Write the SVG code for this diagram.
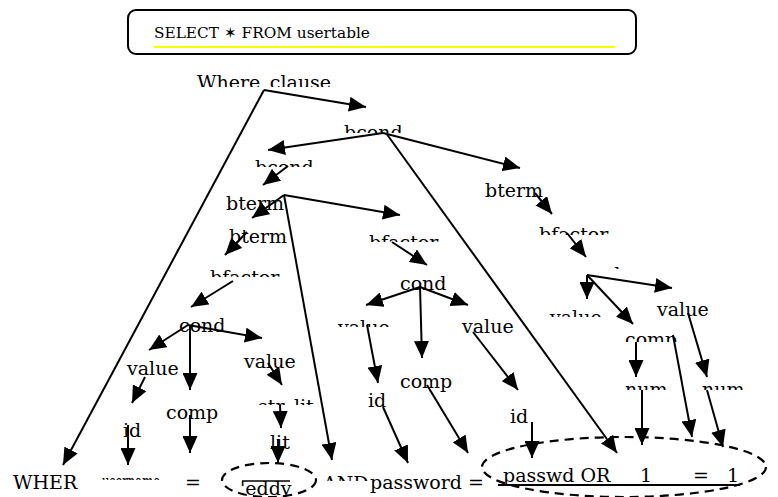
<svg xmlns="http://www.w3.org/2000/svg" width="778" height="497" viewBox="0 0 778 497">
<style>
text{font-family:"DejaVu Serif","Liberation Serif",serif;font-size:19px;fill:#000}
.q{font-size:15.3px}
.c line{stroke:#000;stroke-width:2;marker-end:url(#ah)}
.d{fill:none;stroke:#000;stroke-width:2.2;stroke-dasharray:9 6}
</style>
<defs>
<marker id="ah" markerUnits="userSpaceOnUse" markerWidth="17" markerHeight="15" refX="17" refY="7.5" orient="auto"><path d="M0,0 L17,7.5 L0,15 z" fill="#000"/></marker>
<clipPath id="k1"><rect x="190" y="60" width="160" height="27"/></clipPath>
<clipPath id="k2"><rect x="340" y="110" width="80" height="23"/></clipPath>
<clipPath id="k3"><rect x="250" y="150" width="80" height="17"/></clipPath>
<clipPath id="k4"><rect x="205" y="260" width="90" height="17"/></clipPath>
<clipPath id="k5"><rect x="100" y="470" width="62" height="10"/></clipPath>
<clipPath id="k6"><rect x="250" y="390" width="80" height="15"/></clipPath>
<clipPath id="k7"><rect x="230" y="481" width="80" height="20"/></clipPath>
<clipPath id="k8"><rect x="320" y="470" width="50" height="11"/></clipPath>
<clipPath id="k9"><rect x="360" y="225" width="90" height="17"/></clipPath>
<clipPath id="k10"><rect x="330" y="310" width="70" height="17"/></clipPath>
<clipPath id="k11"><rect x="535" y="215" width="90" height="20"/></clipPath>
<clipPath id="k12"><rect x="570" y="255" width="70" height="14"/></clipPath>
<clipPath id="k13"><rect x="545" y="300" width="70" height="17"/></clipPath>
<clipPath id="k14"><rect x="620" y="330" width="70" height="12"/></clipPath>
<clipPath id="k15"><rect x="620" y="380" width="60" height="10"/></clipPath>
<clipPath id="k16"><rect x="698" y="380" width="60" height="10"/></clipPath>
</defs>
<rect width="778" height="497" fill="#fff"/>
<g id="query">
<rect x="128" y="10" width="508" height="44" rx="8" fill="#fff" stroke="#000" stroke-width="2"/>
<line x1="154" y1="47" x2="615" y2="47" stroke="#ffff00" stroke-width="2"/>
<text class="q" x="154" y="38">SELECT ✶ FROM usertable</text>
</g>
<g class="c" id="connectors">
<line x1="264" y1="90" x2="366" y2="107"/>
<line x1="264" y1="90" x2="63" y2="465"/>
<line x1="383" y1="133" x2="268" y2="150"/>
<line x1="383" y1="133" x2="520" y2="168"/>
<line x1="386" y1="133" x2="617" y2="453"/>
<line x1="288" y1="166" x2="263" y2="185"/>
<line x1="284" y1="195" x2="252" y2="218"/>
<line x1="284" y1="195" x2="400" y2="215"/>
<line x1="284" y1="195" x2="332" y2="460"/>
<line x1="247" y1="232" x2="225" y2="255"/>
<line x1="233" y1="281" x2="191" y2="307"/>
<line x1="188" y1="325" x2="149" y2="350"/>
<line x1="190" y1="325" x2="190" y2="390"/>
<line x1="188" y1="325" x2="262" y2="338"/>
<line x1="145" y1="377" x2="132" y2="403"/>
<line x1="190" y1="415" x2="190" y2="453"/>
<line x1="128" y1="425" x2="128" y2="465"/>
<line x1="268" y1="363" x2="282" y2="385"/>
<line x1="280" y1="405" x2="281" y2="428"/>
<line x1="278" y1="440" x2="278" y2="463"/>
<line x1="392" y1="242" x2="427" y2="265"/>
<line x1="420" y1="287" x2="366" y2="305"/>
<line x1="420" y1="287" x2="422" y2="358"/>
<line x1="420" y1="287" x2="468" y2="305"/>
<line x1="367" y1="325" x2="378" y2="383"/>
<line x1="383" y1="407" x2="408" y2="463"/>
<line x1="427" y1="385" x2="468" y2="453"/>
<line x1="473" y1="332" x2="518" y2="390"/>
<line x1="532" y1="422" x2="532" y2="458"/>
<line x1="535" y1="193" x2="552" y2="214"/>
<line x1="567" y1="233" x2="586" y2="257"/>
<line x1="587" y1="275" x2="587" y2="299"/>
<line x1="587" y1="275" x2="633" y2="324"/>
<line x1="587" y1="275" x2="672" y2="288"/>
<line x1="636" y1="342" x2="636" y2="377"/>
<line x1="673" y1="335" x2="692" y2="437"/>
<line x1="688" y1="313" x2="707" y2="377"/>
<line x1="642" y1="390" x2="642" y2="445"/>
<line x1="707" y1="390" x2="723" y2="447"/>
</g>
<g id="n-where"><text x="197" y="89" clip-path="url(#k1)">Where_clause</text></g>
<g id="n-bcond1"><text x="344" y="139" clip-path="url(#k2)">bcond</text></g>
<g id="n-bcond2"><text x="255" y="174" clip-path="url(#k3)">bcond</text></g>
<g id="n-bterm1"><text x="226" y="210">bterm</text></g>
<g id="n-bterm2"><text x="229" y="243">bterm</text></g>
<g id="n-bfactor1"><text x="210" y="284" clip-path="url(#k4)">bfactor</text></g>
<g id="n-cond1"><text x="179" y="332">cond</text></g>
<g id="n-value1"><text x="127" y="375">value</text></g>
<g id="n-comp1"><text x="166" y="419">comp</text></g>
<g id="n-id1"><text x="123" y="437">id</text></g>
<g id="n-value2"><text x="244" y="368">value</text></g>
<g id="n-strlit"><text x="258" y="413" clip-path="url(#k6)">str_lit</text></g>
<g id="n-lit"><text x="270" y="449">lit</text></g>
<g id="n-bfactor2"><text x="369" y="249" clip-path="url(#k9)">bfactor</text></g>
<g id="n-cond2"><text x="400" y="290">cond</text></g>
<g id="n-value3"><text x="338" y="334" clip-path="url(#k10)">value</text></g>
<g id="n-comp2"><text x="400" y="388">comp</text></g>
<g id="n-value4"><text x="462" y="333">value</text></g>
<g id="n-id2"><text x="368" y="407">id</text></g>
<g id="n-id3"><text x="510" y="423">id</text></g>
<g id="n-bterm3"><text x="485" y="197">bterm</text></g>
<g id="n-bfactor3"><text x="539" y="241" clip-path="url(#k11)">bfactor</text></g>
<g id="n-cond3"><text x="574" y="281" clip-path="url(#k12)">cond</text></g>
<g id="n-value5"><text x="550" y="324" clip-path="url(#k13)">value</text></g>
<g id="n-value6"><text x="657" y="316">value</text></g>
<g id="n-comp3"><text x="625" y="346" clip-path="url(#k14)">comp</text></g>
<g id="n-num1"><text x="625" y="396" clip-path="url(#k15)">num</text></g>
<g id="n-num2"><text x="702" y="396" clip-path="url(#k16)">num</text></g>
<g id="tokens">
<text x="13" y="489">WHER</text>
<text x="102" y="488" textLength="58" lengthAdjust="spacingAndGlyphs" clip-path="url(#k5)">username</text>
<text x="185" y="489">=</text>
<ellipse class="d" cx="269" cy="480" rx="47" ry="17"/>
<text x="240" y="495" clip-path="url(#k7)">'eddy</text>
<line x1="242" y1="481" x2="290" y2="481" stroke="#000" stroke-width="1.5"/>
<text x="323" y="490" clip-path="url(#k8)">AND</text>
<text x="370" y="489">password =</text>
<ellipse class="d" cx="624" cy="467" rx="142" ry="30"/>
<text x="503" y="482">passwd OR</text>
<text x="640" y="482">1</text>
<text x="693" y="482">=</text>
<text x="727" y="482">1</text>
<line x1="498" y1="485" x2="740" y2="485" stroke="#000" stroke-width="1.8"/>
</g>
</svg>
